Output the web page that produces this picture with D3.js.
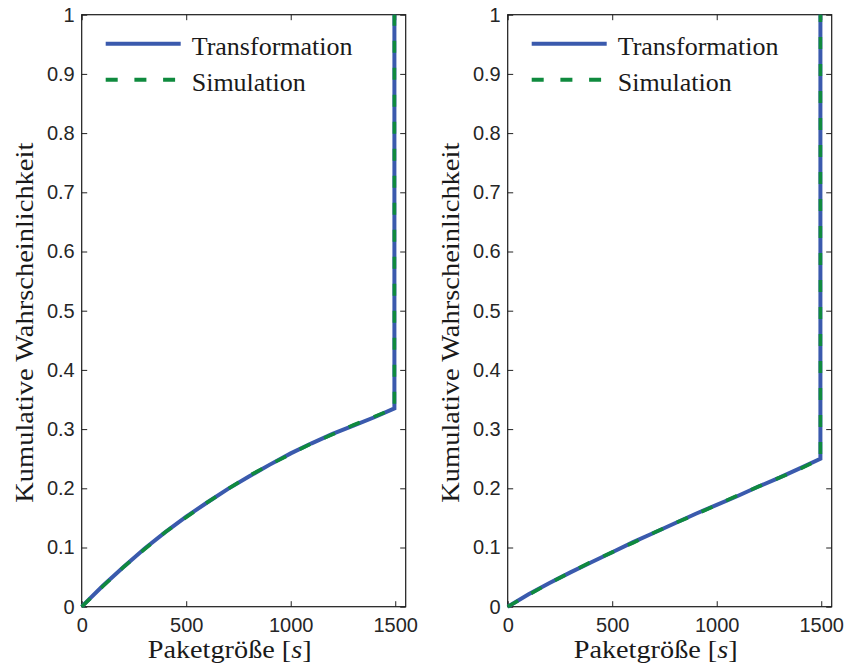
<!doctype html>
<html>
<head>
    <meta charset="utf-8">
    <title>Kumulative Wahrscheinlichkeit</title>
    <script src="https://d3js.org/d3.v7.min.js"></script>
    <style type="text/css">
        html, body { margin: 0; background: #fff; }
        svg { display: block; }
        .tick text { font-family: "Liberation Sans", Arial, sans-serif; font-size: 20px; fill: #262626; }
        .lbl { font-family: "Liberation Serif", "Times New Roman", serif; font-size: 26px; fill: #1a1a1a; }
    </style>
</head>
<body>
<script type="text/javascript">
    // ---- data ----
    var xTicks = [0, 500, 1000, 1500];
    var yTicks = [0, 0.1, 0.2, 0.3, 0.4, 0.5, 0.6, 0.7, 0.8, 0.9, 1];

    var packetSize = [0, 100, 200, 300, 400, 500, 600, 700, 800, 900, 1000, 1100, 1200, 1300, 1400, 1496, 1496];

    var transLeft = [0, 0.035, 0.067, 0.098, 0.126, 0.152, 0.176, 0.199, 0.220, 0.240, 0.259, 0.276, 0.292, 0.306, 0.320, 0.335, 1];
    var simLeft   = [0, 0.034, 0.067, 0.097, 0.126, 0.151, 0.176, 0.199, 0.221, 0.240, 0.258, 0.276, 0.291, 0.307, 0.321, 0.335, 1];

    var transRight = [0, 0.021, 0.040, 0.058, 0.075, 0.092, 0.109, 0.125, 0.141, 0.157, 0.172, 0.187, 0.203, 0.218, 0.234, 0.250, 1];
    var simRight   = [0, 0.020, 0.040, 0.058, 0.076, 0.092, 0.108, 0.125, 0.141, 0.156, 0.172, 0.188, 0.203, 0.218, 0.233, 0.250, 1];

    var legendNames = ["Transformation", "Simulation"];

    var blue = "#3a5aad", green = "#0f8a3e";

    var W = 846, H = 668;
    var svg = d3.select("body").append("svg").attr("width", W).attr("height", H);

    var plotTop = 14.7, ph = 592, pw = 324;

    function panel(x0, trans, sim) {
        var x = d3.scaleLinear().domain([0, 1550]).range([0, pw]);
        var y = d3.scaleLinear().domain([0, 1]).range([ph, 0]);
        var g = svg.append("g").attr("transform", "translate(" + x0 + "," + plotTop + ")");

        var fmt = function(d) { return d3.format("~g")(d); };

        // axes, ticks pointing inwards on all four sides
        g.append("g").attr("transform", "translate(0," + ph + ")")
            .call(d3.axisBottom(x).tickValues(xTicks).tickSizeInner(-5.5).tickSizeOuter(0).tickPadding(11).tickFormat(fmt));
        g.append("g")
            .call(d3.axisTop(x).tickValues(xTicks).tickSizeInner(-5.5).tickSizeOuter(0).tickFormat(""));
        g.append("g")
            .call(d3.axisLeft(y).tickValues(yTicks).tickSizeInner(-5.5).tickSizeOuter(0).tickPadding(7).tickFormat(fmt));
        g.append("g").attr("transform", "translate(" + pw + ",0)")
            .call(d3.axisRight(y).tickValues(yTicks).tickSizeInner(-5.5).tickSizeOuter(0).tickFormat(""));
        g.selectAll(".domain").remove();
        g.selectAll(".tick line").attr("stroke", "#222");
        g.selectAll(".tick text").attr("font-size", null).attr("font-family", null);

        g.append("rect").attr("width", pw).attr("height", ph)
            .attr("fill", "none").attr("stroke", "#1a1a1a").attr("stroke-width", 1.2);

        var line = d3.line()
            .x(function(d, i) { return x(packetSize[i]); })
            .y(function(d) { return y(d); });

        g.append("path").datum(trans).attr("d", line)
            .attr("fill", "none").attr("stroke", blue).attr("stroke-width", 4);
        g.append("path").datum(sim).attr("d", line)
            .attr("fill", "none").attr("stroke", green).attr("stroke-width", 3.6)
            .attr("stroke-dasharray", "12,15");

        // legend
        var leg = g.append("g").attr("transform", "translate(24,0)");
        leg.append("line").attr("x1", 0).attr("x2", 75).attr("y1", 29).attr("y2", 29)
            .attr("stroke", blue).attr("stroke-width", 4);
        leg.append("line").attr("x1", 0).attr("x2", 75).attr("y1", 65).attr("y2", 65)
            .attr("stroke", green).attr("stroke-width", 4).attr("stroke-dasharray", "12,16.7");
        leg.selectAll("text.leg").data(legendNames).enter().append("text")
            .attr("class", "lbl")
            .attr("x", 86)
            .attr("y", function(d, i) { return 40 + i * 36; })
            .text(function(d) { return d; });

        // axis labels
        var xl = g.append("text").attr("class", "lbl")
            .attr("x", pw / 2 - 14).attr("y", 643)
            .attr("text-anchor", "middle")
            .attr("textLength", 164).attr("lengthAdjust", "spacingAndGlyphs");
        xl.append("tspan").text("Paketgröße [");
        xl.append("tspan").attr("font-style", "italic").text("s");
        xl.append("tspan").text("]");

        g.append("text").attr("class", "lbl")
            .attr("transform", "translate(-49," + (ph / 2 + 12) + ") rotate(-90)")
            .attr("text-anchor", "middle")
            .attr("textLength", 360).attr("lengthAdjust", "spacingAndGlyphs")
            .text("Kumulative Wahrscheinlichkeit");
    }

    panel(81.7, transLeft, simLeft);
    panel(507.7, transRight, simRight);
</script>
</body>
</html>
